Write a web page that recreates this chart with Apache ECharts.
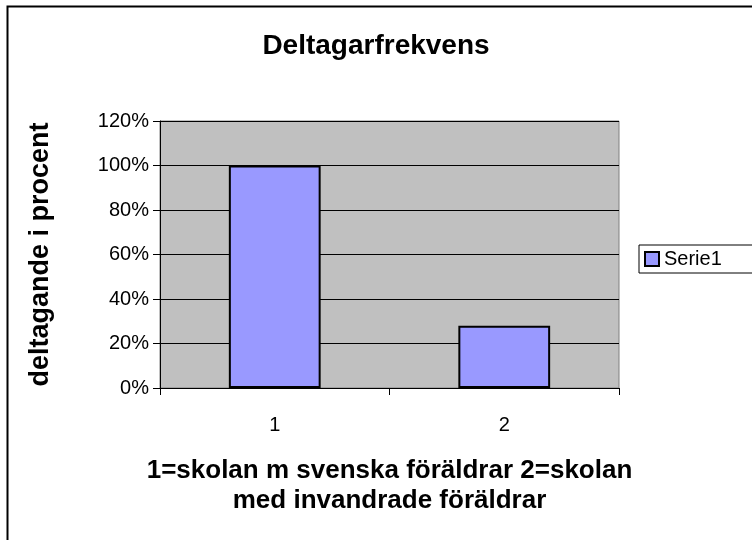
<!DOCTYPE html>
<html>
<head>
<meta charset="utf-8">
<script src="https://cdn.jsdelivr.net/npm/echarts@6/dist/echarts.min.js"></script>
<style>
html,body{margin:0;padding:0;background:#fff;}
#chart{width:752px;height:540px;}
</style>
</head>
<body>
<div id="chart"></div>
<script>
// data
var categories = ['1', '2'];
var values = [1.0, 0.28];
var seriesName = 'Serie1';

var myChart = echarts.init(document.getElementById('chart'));

var font = 'Liberation Sans, Arial, sans-serif';

var option = {
	animation: false,
	backgroundColor: '#fff',
	title: {
		text: 'Deltagarfrekvens',
		left: 371,
		top: 27,
		textAlign: 'center',
		textStyle: {fontFamily: font, fontSize: 28, fontWeight: 'bold', color: '#000'}
	},
	legend: {
		data: [seriesName],
		left: 639,
		top: 245,
		orient: 'vertical',
		padding: [4, 40, 4, 5],
		borderColor: '#000',
		borderWidth: 1,
		itemWidth: 14,
		itemHeight: 14,
		itemGap: 4,
		textStyle: {fontFamily: font, fontSize: 20, color: '#000'},
		icon: 'rect'
	},
	grid: {left: 160, right: 133, top: 121, bottom: 152, show: true, backgroundColor: '#c0c0c0', borderColor: '#808080', borderWidth: 1},
	xAxis: {
		type: 'category',
		data: categories,
		name: '1=skolan m svenska föräldrar 2=skolan\nmed invandrade föräldrar',
		nameLocation: 'middle',
		nameGap: 68,
		nameTextStyle: {fontFamily: font, fontSize: 26, fontWeight: 'bold', color: '#000', lineHeight: 30},
		axisLine: {lineStyle: {color: '#000', width: 1}},
		axisTick: {show: true, length: 7, lineStyle: {color: '#000'}},
		axisLabel: {fontFamily: font, fontSize: 20, color: '#000', margin: 27}
	},
	yAxis: {
		type: 'value',
		min: 0,
		max: 1.2,
		interval: 0.2,
		name: 'deltagande i procent',
		nameLocation: 'middle',
		nameGap: 106,
		nameTextStyle: {fontFamily: font, fontSize: 27, fontWeight: 'bold', color: '#000'},
		axisLine: {show: true, lineStyle: {color: '#000', width: 1}},
		axisTick: {show: true, length: 7, lineStyle: {color: '#000'}},
		axisLabel: {
			fontFamily: font, fontSize: 20, color: '#000', margin: 11,
			formatter: function (v) { return Math.round(v * 100) + '%'; }
		},
		splitLine: {lineStyle: {color: '#000', width: 1}}
	},
	series: [
		{
			name: seriesName,
			type: 'bar',
			data: values,
			barWidth: '40%',
			itemStyle: {color: '#9999ff', borderColor: '#000', borderWidth: 2}
		}
	],
	graphic: [
		{
			type: 'rect',
			shape: {x: 7.5, y: 6.5, width: 800, height: 600},
			style: {fill: 'none', stroke: '#000', lineWidth: 2},
			silent: true
		}
	]
};

myChart.setOption(option);
</script>
</body>
</html>
